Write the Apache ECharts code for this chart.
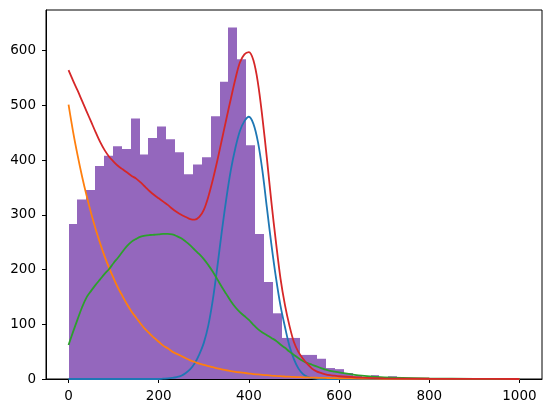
<!DOCTYPE html>
<html>
<head>
<meta charset="utf-8">
<script src="https://cdn.jsdelivr.net/npm/echarts@6/dist/echarts.min.js"></script>
<style>
html, body { margin: 0; padding: 0; background: #fff; }
#chart { width: 552px; height: 413px; }
</style>
</head>
<body>
<div id="chart"></div>
<script>
// histogram: bins start at 0, width
const binStart = 0
const binWidth = 19.7
const counts = [283, 328, 345, 389, 408, 425, 420, 476, 410, 440, 461, 438, 414, 374, 392, 405, 480, 543, 642, 584,
    427, 265, 177, 120, 75, 75, 44, 44, 37, 20, 18, 11, 6, 4, 7, 2, 5]

// x positions where the curves were read (every 10 up to 600)
const curveX = [0, 10, 20, 30, 40, 50, 60, 70, 80, 90,
    100, 110, 120, 130, 140, 150, 160, 170, 180, 190,
    200, 210, 220, 230, 240, 250, 260, 270, 280, 290,
    300, 310, 320, 330, 340, 350, 360, 370, 380, 390,
    400, 410, 420, 430, 440, 450, 460, 470, 480, 490,
    500, 510, 520, 530, 540, 550, 560, 570, 580, 590,
    600, 650, 700, 800, 900, 1000]
const blueY = [0, 0, 0, 0, 0, 0, 0, 0, 0, 0,
    0, 0, 0, 0, 0, 0, 0, 0, 0, 0,
    0, 0.5, 1, 2, 3.5, 6, 11, 18, 29, 45,
    66, 98, 145, 205, 270, 330, 382, 422, 453, 471,
    479, 466, 433, 380, 312, 245, 185, 134, 95, 60,
    36, 19, 9, 4, 1.5, 0.5, 0, 0, 0, 0,
    0, 0, 0, 0, 0, 0]
const orangeY = [501, 452, 409, 370, 335, 303, 274, 248, 224, 203,
    184, 166, 151, 136, 123, 112, 101, 91, 83, 75,
    68, 61, 56, 50, 46, 42, 38, 34, 31, 28,
    26, 23.5, 21.5, 19.5, 17.5, 16, 14.5, 13, 12, 11,
    10, 9, 8.3, 7.6, 6.9, 6.2, 5.6, 5.1, 4.6, 4.2,
    3.8, 3.4, 3.1, 2.8, 2.5, 2.3, 2.1, 1.9, 1.7, 1.5,
    1.3, 0.8, 0.5, 0.2, 0.1, 0]
const greenY = [62, 86, 109, 131, 149, 161, 172, 182, 192, 201,
    212, 222, 233, 243, 251, 256, 260, 262, 263, 263.5,
    264, 265, 265, 264, 261, 257, 251, 244, 236, 228,
    219, 208, 196, 182, 168, 155, 142, 131, 122, 115,
    108, 99, 91, 85, 80, 75, 70, 63, 57, 50,
    44, 38, 33, 29, 26, 23, 20, 17, 15, 13.5,
    12, 6, 3, 1, 0.3, 0]
const redY = [564, 545, 527, 508, 489, 470, 451, 433, 418, 406,
    397, 389, 383, 377, 371, 366, 359, 351, 343, 336,
    330, 324, 318, 311, 305, 300, 296, 292, 291, 296,
    309, 333, 364, 399, 437, 475, 512, 548, 578, 593,
    597, 582, 541, 477, 402, 322, 250, 184, 135, 97,
    67, 49, 37, 27, 19, 14, 11, 8.5, 7, 6,
    5, 2.5, 1.3, 0.5, 0.2, 0]

const xTicks = [0, 200, 400, 600, 800, 1000]
const yTicks = [0, 100, 200, 300, 400, 500, 600]

const chart = echarts.init(document.getElementById('chart'))

function pairs(ys) {
    return curveX.map((x, i) => [x, ys[i]])
}

function lineSeries(name, color, ys) {
    return {
        type: 'line',
        name: name,
        data: pairs(ys),
        showSymbol: false,
        smooth: 0.35,
        lineStyle: { color: color, width: 1.8 },
        itemStyle: { color: color },
        z: 3
    }
}

const axisText = { color: '#000', fontSize: 13.5, fontFamily: 'DejaVu Sans' }

const options = {
    animation: false,
    grid: {
        left: 46,
        right: 10,
        top: 10,
        bottom: 34,
        show: true,
        borderColor: '#000',
        borderWidth: 1,
        backgroundColor: 'transparent'
    },
    xAxis: {
        type: 'value',
        min: -50,
        max: 1050,
        axisLine: { show: true, onZero: false, lineStyle: { color: '#000', width: 1 } },
        axisTick: { show: true, length: 4, lineStyle: { color: '#000' }, customValues: xTicks },
        axisLabel: Object.assign({ margin: 10, customValues: xTicks, formatter: v => String(v) }, axisText),
        splitLine: { show: false }
    },
    yAxis: {
        type: 'value',
        min: 0,
        max: 674,
        axisLine: { show: true, onZero: false, lineStyle: { color: '#000', width: 1 } },
        axisTick: { show: true, length: 4, lineStyle: { color: '#000' }, customValues: yTicks },
        axisLabel: Object.assign({ margin: 10, customValues: yTicks, formatter: v => String(v) }, axisText),
        splitLine: { show: false }
    },
    series: [
        {
            type: 'custom',
            name: 'hist',
            z: 1,
            renderItem: function (params, api) {
                const p0 = api.coord([api.value(0), api.value(2)])
                const p1 = api.coord([api.value(1), 0])
                // snap to whole pixels so neighbouring bars meet without seams
                const x0 = Math.round(p0[0])
                const x1 = Math.round(p1[0])
                return {
                    type: 'rect',
                    shape: { x: x0, y: p0[1], width: x1 - x0, height: p1[1] - p0[1] },
                    style: { fill: '#9467bd' }
                }
            },
            encode: { x: [0, 1], y: 2 },
            data: counts.map((c, i) => [binStart + i * binWidth, binStart + (i + 1) * binWidth, c])
        },
        lineSeries('blue', '#1f77b4', blueY),
        lineSeries('orange', '#ff7f0e', orangeY),
        lineSeries('green', '#2ca02c', greenY),
        lineSeries('red', '#d62728', redY)
    ]
}
chart.setOption(options)
</script>
</body>
</html>
